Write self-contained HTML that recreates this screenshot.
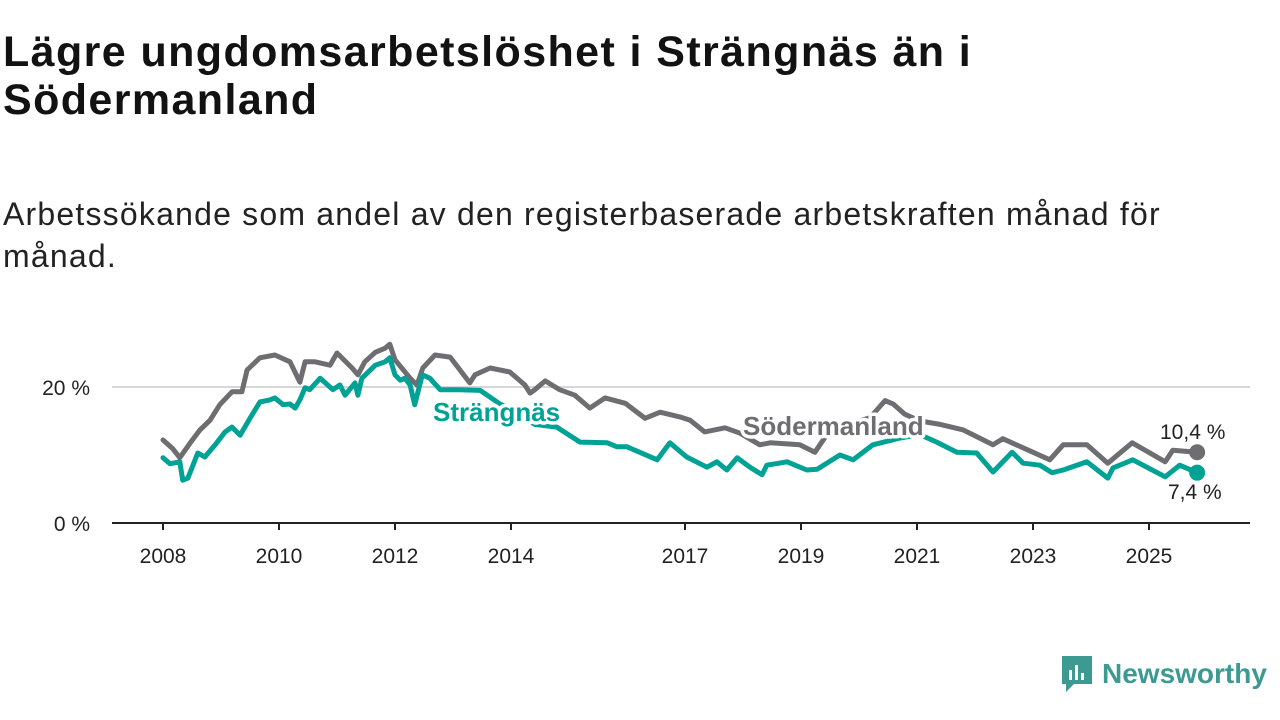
<!DOCTYPE html>
<html><head><meta charset="utf-8"><style>
body{margin:0;width:1280px;height:720px;background:#fff;font-family:"Liberation Sans","DejaVu Sans",sans-serif;overflow:hidden;position:relative;color:#111}
h1{position:absolute;left:3px;top:28px;margin:0;font-size:43px;line-height:48px;font-weight:bold;color:#121212;width:1270px;letter-spacing:1.4px;white-space:nowrap}
.sub{position:absolute;left:3px;top:193px;margin:0;font-size:32px;line-height:42px;color:#222;width:1270px;letter-spacing:1.2px;white-space:nowrap}
svg{position:absolute;left:0;top:0}
.logo{position:absolute;left:1060px;top:654px;display:flex;align-items:center;color:#3d9a92;font-size:28px;font-weight:bold}
</style></head><body>
<h1>Lägre ungdomsarbetslöshet i Strängnäs än i<br>Södermanland</h1>
<p class="sub">Arbetssökande som andel av den registerbaserade arbetskraften månad för<br>månad.</p>
<svg id="chart" width="1280" height="720"></svg>
<div class="logo">
<svg width="34" height="40" viewBox="0 0 34 40" style="position:static;margin-right:8px"><path d="M2 2h30v28H14l-8 8v-8H2z" fill="#3d9a92"/><rect x="9" y="16" width="3" height="10" fill="#fff"/><rect x="15" y="11" width="3" height="15" fill="#fff"/><rect x="21" y="19" width="3" height="7" fill="#fff"/></svg>Newsworthy</div>
<script>
const tickYears=[2008,2010,2012,2014,2017,2019,2021,2023,2025];
const yTicks=[0,20];
const sodDates=[2008.00,2008.16,2008.29,2008.47,2008.64,2008.81,2008.98,2009.19,2009.36,2009.45,2009.67,2009.93,2010.19,2010.36,2010.45,2010.62,2010.88,2011.00,2011.26,2011.36,2011.48,2011.66,2011.83,2011.91,2012.00,2012.26,2012.38,2012.48,2012.69,2012.95,2013.12,2013.29,2013.38,2013.64,2013.98,2014.24,2014.33,2014.41,2014.59,2014.84,2015.10,2015.36,2015.62,2015.97,2016.31,2016.57,2016.91,2017.09,2017.34,2017.69,2017.95,2018.29,2018.47,2018.98,2019.24,2019.50,2019.84,2020.19,2020.45,2020.59,2020.79,2021.05,2021.40,2021.79,2022.31,2022.48,2023.29,2023.52,2023.93,2024.29,2024.71,2025.28,2025.41,2025.83];
const sodValues=[12.2,11.0,9.6,11.8,13.7,15.1,17.4,19.3,19.3,22.5,24.3,24.7,23.7,20.7,23.7,23.7,23.2,25.0,22.8,21.8,23.7,25.1,25.7,26.3,24.0,21.3,20.3,22.8,24.7,24.4,22.5,20.6,21.8,22.8,22.2,20.3,19.1,19.6,20.9,19.6,18.8,16.9,18.4,17.6,15.4,16.3,15.6,15.1,13.4,14.0,13.2,11.5,11.8,11.5,10.4,13.7,14.5,15.5,18.0,17.5,16.0,15.0,14.5,13.7,11.5,12.4,9.3,11.5,11.5,8.8,11.8,9.0,10.7,10.4];
const strDates=[2008.00,2008.12,2008.29,2008.34,2008.43,2008.60,2008.72,2008.90,2009.07,2009.19,2009.33,2009.50,2009.67,2009.84,2009.93,2010.07,2010.19,2010.28,2010.36,2010.45,2010.53,2010.71,2010.93,2011.05,2011.14,2011.31,2011.36,2011.43,2011.66,2011.83,2011.91,2012.00,2012.09,2012.17,2012.26,2012.34,2012.47,2012.60,2012.78,2013.12,2013.47,2013.81,2014.16,2014.41,2014.79,2015.19,2015.66,2015.83,2016.00,2016.52,2016.74,2017.03,2017.38,2017.55,2017.72,2017.90,2018.12,2018.33,2018.41,2018.76,2019.10,2019.28,2019.67,2019.90,2020.24,2020.71,2021.05,2021.34,2021.69,2022.03,2022.31,2022.64,2022.83,2023.12,2023.33,2023.52,2023.93,2024.29,2024.38,2024.72,2025.28,2025.53,2025.83];
const strValues=[9.6,8.7,9.0,6.3,6.6,10.3,9.7,11.5,13.4,14.1,12.9,15.4,17.8,18.1,18.4,17.4,17.5,16.9,18.1,19.9,19.6,21.3,19.6,20.3,18.8,20.6,18.8,21.3,23.2,23.7,24.3,21.8,21.0,21.3,20.3,17.4,21.8,21.3,19.6,19.6,19.5,17.5,16.0,14.5,14.1,11.9,11.8,11.2,11.2,9.3,11.8,9.7,8.2,9.0,7.8,9.6,8.2,7.1,8.5,9.0,7.8,7.9,10.0,9.3,11.5,12.5,13.0,11.9,10.4,10.3,7.5,10.4,8.8,8.5,7.4,7.8,9.0,6.6,8.1,9.3,6.8,8.5,7.4];
const NS="http://www.w3.org/2000/svg";
const svg=document.getElementById('chart');
const X=y=>163+(y-2008)*58;
const Y=v=>523-v*6.8;
function mk(tag,attrs,text){const e=document.createElementNS(NS,tag);for(const k in attrs)e.setAttribute(k,attrs[k]);if(text!==undefined)e.textContent=text;svg.appendChild(e);return e;}
yTicks.forEach(t=>{
 if(t>0){const g=mk('line',{x1:112,x2:1250,y1:Y(t),y2:Y(t),stroke:'#d6d6d6','stroke-width':2});
 
 }
 const l=mk('text',{x:90,y:Y(t)+8,'text-anchor':'end','font-size':21,fill:'#222'},t+' %');
 
 
});
const ax=mk('line',{x1:112,x2:1250,y1:523,y2:523,stroke:'#222','stroke-width':2});


tickYears.forEach(t=>{
 const tk=mk('line',{x1:X(t),x2:X(t),y1:523,y2:530,stroke:'#222','stroke-width':2});
 
 
 const l=mk('text',{x:X(t),y:563,'text-anchor':'middle','font-size':21,fill:'#222'},String(t));
 
 
});
function line(d,v,col,name){
 const p=d.map((x,i)=>(i?'L':'M')+X(x).toFixed(1)+','+Y(v[i]).toFixed(1)).join('');
 const e=mk('path',{d:p,fill:'none',stroke:col,'stroke-width':5,'stroke-linejoin':'round','stroke-linecap':'round'});
 
 
 const n=d.length-1;
 const c=mk('circle',{cx:X(d[n]),cy:Y(v[n]),r:8,fill:col});
 
 
}
line(sodDates,sodValues,'#6e6d72','sodermanland-line');
line(strDates,strValues,'#00a295','strangnas-line');
function lab(x,y,txt,col,name,size,bold,halo){
 const a={x:x,y:y,'font-size':size,fill:col,'font-weight':bold?'bold':'normal'};
 if(halo){a.stroke='#fff';a['stroke-width']=7;a['paint-order']='stroke';a['stroke-linejoin']='round';}
 const t=mk('text',a,txt);
 
 
}
lab(433,421,'Strängnäs','#00a295','strangnas-label',26,true,true);
lab(743,435,'Södermanland','#6e6d72','sodermanland-label',26,true,true);
lab(1160,439,'10,4 %','#222','sodermanland-end-value',21,false,true);
lab(1168,499,'7,4 %','#222','strangnas-end-value',21,false,true);
</script>
</body></html>
